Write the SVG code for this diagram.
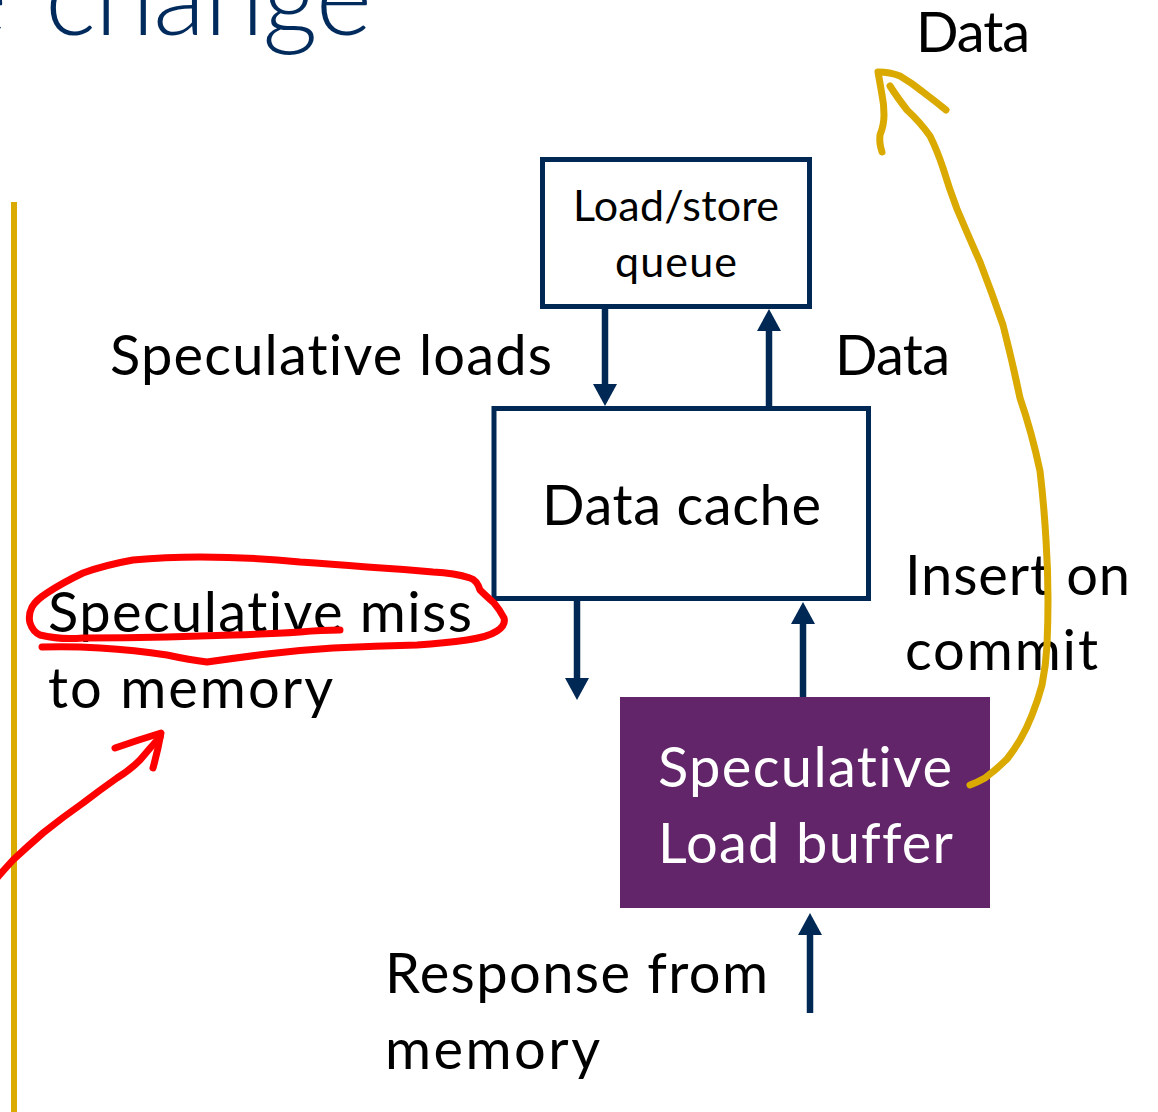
<svg xmlns="http://www.w3.org/2000/svg" width="1158" height="1112" viewBox="0 0 1158 1112">
<defs>
<style>
.t{font-family:Lato,"Liberation Sans",sans-serif;fill:#000;font-variant-ligatures:none}
.w{fill:#fff}
.box{fill:#fff;stroke:#002855;stroke-width:5}
.conn{stroke:#002855;stroke-width:6.5;fill:none;marker-end:url(#ah)}
.ink{fill:none;stroke-linecap:round;stroke-linejoin:round;stroke-width:7}
</style>
<marker id="ah" markerUnits="userSpaceOnUse" markerWidth="22" markerHeight="24" refX="0" refY="12" orient="auto">
<path d="M0,0 L22,12 L0,24 Z" fill="#002855"/>
</marker>
</defs>
<rect width="1158" height="1112" fill="#fff"/>
<text class="t" y="35" font-size="108" font-weight="300" style="fill:#002B5C"><tspan x="-49">e</tspan> <tspan x="45" textLength="327">change</tspan></text>
<rect x="11" y="202" width="6" height="910" fill="#DAAA00"/>

<g id="lsq">
<rect class="box" x="542.5" y="159.5" width="267" height="147"/>
<text class="t" x="573" y="221" font-size="43" textLength="206">Load/store</text>
<text class="t" x="615" y="277" font-size="43" textLength="122">queue</text>
</g>
<g id="dcache">
<rect class="box" x="494" y="408.5" width="374.5" height="190"/>
<text class="t" x="542" y="525" font-size="56" textLength="279">Data cache</text>
</g>
<g id="buffer">
<rect x="620" y="697" width="370" height="211" fill="#62256A"/>
<text class="t w" x="658" y="787" font-size="56" textLength="294">Speculative</text>
<text class="t w" x="658" y="863" font-size="56" textLength="295">Load buffer</text>
</g>

<g id="connectors">
<line class="conn" x1="605" y1="309" x2="605" y2="384"/>
<line class="conn" x1="769" y1="406" x2="769" y2="331"/>
<line class="conn" x1="577" y1="601" x2="577" y2="678"/>
<line class="conn" x1="803" y1="697" x2="803" y2="624"/>
<line class="conn" x1="810" y1="1013" x2="810" y2="935"/>
</g>

<g id="labels">
<text class="t" x="916" y="52" font-size="56" textLength="114">Data</text>
<text class="t" x="110" y="375" font-size="56" textLength="442">Speculative loads</text>
<text class="t" x="835" y="375" font-size="56" textLength="115">Data</text>
<text class="t" x="905" y="595" font-size="56" textLength="225">Insert on</text>
<text class="t" x="905" y="670" font-size="56" textLength="193">commit</text>
<text class="t" x="48" y="632" font-size="56" textLength="424">Speculative miss</text>
<text class="t" x="48" y="708" font-size="56" textLength="285">to memory</text>
<text class="t" x="385" y="993" font-size="56" textLength="383">Response from</text>
<text class="t" x="385" y="1069" font-size="56" textLength="215">memory</text>
</g>

<g id="annotations">
<path class="ink" stroke="#FF0000" d="M42,647 Q70,646 100,648 Q135,650 167,655 Q190,660 207,662 Q235,658 267,654 Q300,650 333,648 Q375,646 417,645 Q445,643 467,640 Q488,637 497,631 Q506,625 504,618 Q500,610 494,603 Q485,595 480,590 Q477,580 470,578 Q455,573 433,572 Q400,569 367,567 Q330,564 300,562 Q250,557 200,557 Q165,557 133,560 Q105,565 83,573 Q62,583 47,593 Q36,600 32,607 Q28,615 30,623 Q33,632 40,635 Q60,640 83,638 Q125,638 167,637 Q200,636 233,635 Q270,634 300,632 Q322,630 340,630"/>
<path class="ink" stroke="#FF0000" d="M-10,886 Q2,872 13,860 Q28,846 43,833 Q63,817 83,803 Q100,790 117,778 Q130,770 140,760 Q150,748 160,737"/>
<path class="ink" stroke="#FF0000" d="M115,748 Q138,740 161,733 Q158,750 153,768"/>
<path class="ink" stroke="#DAAA00" d="M970,785 Q978,782 985,778 Q997,769 1007,759 Q1014,750 1020,740 Q1027,728 1032,715 Q1038,700 1042,685 Q1046,665 1047,645 Q1048,622 1048,600 Q1048,570 1046,540 Q1044,505 1040,471 Q1032,433 1020,398 Q1012,360 1003,325 Q992,293 980,262 Q968,235 957,209 Q949,188 943,168 Q937,150 930,136 Q920,122 907,110 Q897,97 890,86"/>
<path class="ink" stroke="#DAAA00" d="M882,152 Q879,143 880,135 Q884,125 884,115 Q884,104 882,95 Q880,83 878,72 Q890,72 900,76 Q912,83 923,92 Q935,101 946,110"/>
</g>
</svg>
